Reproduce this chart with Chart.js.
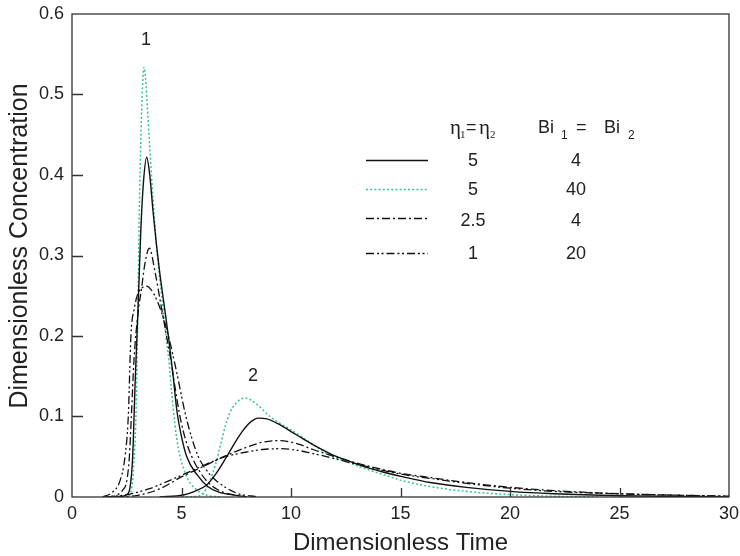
<!DOCTYPE html>
<html>
<head>
<meta charset="utf-8">
<script src="https://cdn.jsdelivr.net/npm/chart.js@4.4.0/dist/chart.umd.min.js"></script>
<style>
  html, body { margin: 0; padding: 0; background: #fff; }
</style>
</head>
<body>
<canvas id="chart" width="740" height="556"></canvas>
<script>
// axis ticks
const xTicks = [0, 5, 10, 15, 20, 25, 30];
const yTicks = [0, 0.1, 0.2, 0.3, 0.4, 0.5, 0.6];

// legend table
const etaValues = ['5', '5', '2.5', '1'];
const biValues = ['4', '40', '4', '20'];

// peak 1 (first column)
const t1Solid = [1.8, 2.3, 2.5, 2.65, 2.77, 2.88, 3.03, 3.14, 3.26, 3.41, 3.55, 3.7, 3.85, 4.0, 4.2, 4.4, 4.6, 4.8, 5.0, 5.24, 5.7, 6.2, 6.7, 7.5, 8.0];
const c1Solid = [0, 0.001, 0.003, 0.012, 0.05, 0.14, 0.245, 0.33, 0.39, 0.422, 0.4, 0.355, 0.315, 0.28, 0.24, 0.2, 0.155, 0.105, 0.075, 0.05, 0.028, 0.013, 0.006, 0.002, 0];

const t1Green = [2.2, 2.5, 2.68, 2.78, 2.86, 2.92, 3.0, 3.07, 3.15, 3.22, 3.29, 3.36, 3.45, 3.56, 3.7, 3.9, 4.17, 4.29, 4.42, 4.55, 4.7, 4.86, 5.1, 5.31, 5.69, 6.2, 6.8];
const c1Green = [0, 0.001, 0.005, 0.025, 0.06, 0.1, 0.22, 0.35, 0.45, 0.51, 0.534, 0.52, 0.48, 0.43, 0.37, 0.3, 0.232, 0.2, 0.17, 0.13, 0.09, 0.06, 0.035, 0.021, 0.009, 0.002, 0];

const t1DashDot = [1.6, 2.0, 2.3, 2.5, 2.62, 2.71, 2.83, 3.0, 3.18, 3.33, 3.53, 3.79, 4.02, 4.25, 4.5, 4.7, 4.93, 5.2, 5.47, 5.8, 6.15, 6.6, 7.0, 7.8];
const c1DashDot = [0, 0.002, 0.008, 0.02, 0.05, 0.1, 0.17, 0.225, 0.26, 0.29, 0.309, 0.28, 0.245, 0.21, 0.172, 0.137, 0.1, 0.07, 0.05, 0.033, 0.02, 0.01, 0.005, 0.001];

const t1DashDotDot = [1.4, 1.8, 2.19, 2.42, 2.57, 2.69, 2.85, 3.0, 3.2, 3.41, 3.6, 3.9, 4.2, 4.45, 4.7, 4.93, 5.16, 5.45, 5.77, 6.15, 6.6, 7.5, 8.5];
const c1DashDotDot = [0, 0.005, 0.02, 0.05, 0.1, 0.2, 0.235, 0.252, 0.26, 0.262, 0.258, 0.243, 0.22, 0.195, 0.165, 0.135, 0.105, 0.075, 0.05, 0.033, 0.02, 0.005, 0];

// peak 2 (second column)
const t2Solid = [4.0, 5.08, 5.6, 6.15, 6.6, 7.06, 7.45, 7.82, 8.15, 8.5, 8.9, 9.4, 10.26, 11.0, 11.78, 12.5, 13.3, 14.2, 15.13, 16.35, 18, 20, 22, 25, 28, 30];
const c2Solid = [0, 0.0025, 0.007, 0.015, 0.03, 0.05, 0.068, 0.083, 0.093, 0.098, 0.097, 0.091, 0.077, 0.065, 0.054, 0.046, 0.038, 0.031, 0.025, 0.018, 0.012, 0.007, 0.004, 0.0015, 0.0005, 0.0002];

const t2Green = [5.2, 5.92, 6.3, 6.55, 6.76, 7.0, 7.2, 7.5, 7.9, 8.4, 9.04, 9.6, 10.26, 11.0, 11.78, 12.5, 13.3, 14.2, 15.13, 16.35, 18, 20, 22, 24];
const c2Green = [0, 0.0025, 0.021, 0.04, 0.0625, 0.088, 0.104, 0.117, 0.123, 0.116, 0.1, 0.09, 0.079, 0.065, 0.052, 0.044, 0.036, 0.028, 0.02, 0.013, 0.007, 0.003, 0.001, 0];

const t2DashDot = [2.0, 3.0, 4.0, 5.0, 6.0, 7.0, 8.0, 8.7, 9.5, 10.3, 11.0, 11.8, 12.5, 13.3, 14.2, 15.1, 16.4, 18, 20, 22, 25, 28, 30];
const c2DashDot = [0, 0.002, 0.01, 0.025, 0.038, 0.051, 0.062, 0.068, 0.07, 0.066, 0.059, 0.052, 0.046, 0.04, 0.034, 0.029, 0.024, 0.018, 0.012, 0.008, 0.004, 0.002, 0.001];

const t2DashDotDot = [1.5, 2.5, 3.5, 4.5, 5.5, 6.5, 7.0, 8.0, 8.7, 9.5, 10.3, 11.0, 11.8, 12.5, 13.3, 14.2, 15.1, 16.4, 18, 20, 22, 25, 28, 30];
const c2DashDotDot = [0, 0.003, 0.01, 0.021, 0.033, 0.045, 0.05, 0.056, 0.059, 0.06, 0.058, 0.054, 0.049, 0.044, 0.039, 0.033, 0.028, 0.023, 0.017, 0.011, 0.007, 0.004, 0.002, 0.001];

// line styles
const GREEN = '#35c496';
const INK = '#111';
const styleSolid = { borderColor: INK, borderWidth: 1.4, borderDash: [] };
const styleGreen = { borderColor: GREEN, borderWidth: 1.5, borderDash: [2, 2.2] };
const styleDashDot = { borderColor: INK, borderWidth: 1.3, borderDash: [8, 3, 2, 3] };
const styleDashDotDot = { borderColor: INK, borderWidth: 1.3, borderDash: [8, 3, 2, 2.5, 2, 3] };
const legendStyles = [styleSolid, styleGreen, styleDashDot, styleDashDotDot];

const FONT = "'Liberation Sans', Arial, sans-serif";

function points(ts, cs) {
  return ts.map((t, i) => ({ x: t, y: cs[i] }));
}

function curve(ts, cs, style) {
  return Object.assign({
    data: points(ts, cs),
    pointRadius: 0,
    fill: false,
    cubicInterpolationMode: 'monotone'
  }, style);
}

const datasets = [
  curve(t1DashDotDot, c1DashDotDot, styleDashDotDot),
  curve(t2DashDotDot, c2DashDotDot, styleDashDotDot),
  curve(t1DashDot, c1DashDot, styleDashDot),
  curve(t2DashDot, c2DashDot, styleDashDot),
  curve(t1Solid, c1Solid, styleSolid),
  curve(t2Solid, c2Solid, styleSolid),
  curve(t1Green, c1Green, styleGreen),
  curve(t2Green, c2Green, styleGreen)
];

// frame, inward ticks, y title, peak labels, legend table
const decorations = {
  id: 'decorations',
  afterDatasetsDraw(chart) {
    const { ctx, chartArea: a, scales } = chart;
    ctx.save();
    ctx.strokeStyle = '#333';
    ctx.lineWidth = 1.3;
    ctx.setLineDash([]);
    ctx.strokeRect(a.left, a.top, a.right - a.left, a.bottom - a.top);

    ctx.beginPath();
    xTicks.slice(1, -1).forEach(v => {
      const x = Math.round(scales.x.getPixelForValue(v)) + 0.5;
      ctx.moveTo(x, a.bottom);
      ctx.lineTo(x, a.bottom - 9);
    });
    yTicks.slice(1, -1).forEach(v => {
      const y = Math.round(scales.y.getPixelForValue(v)) + 0.5;
      ctx.moveTo(a.left, y);
      ctx.lineTo(a.left + 11, y);
    });
    ctx.stroke();

    ctx.fillStyle = '#222';
    // y axis title (sits a little above the axis middle in the original)
    ctx.save();
    ctx.translate(20, 246);
    ctx.rotate(-Math.PI / 2);
    ctx.font = '25px ' + FONT;
    ctx.textAlign = 'center';
    ctx.textBaseline = 'middle';
    ctx.fillText('Dimensionless Concentration', 0, 0);
    ctx.restore();

    ctx.font = '18px ' + FONT;
    ctx.textAlign = 'center';
    ctx.textBaseline = 'middle';
    ctx.fillText('1', 146, 40);
    ctx.fillText('2', 253, 376);

    // header
    ctx.textAlign = 'left';
    ctx.textBaseline = 'alphabetic';
    ctx.font = "21px 'Liberation Serif', serif";
    ctx.fillText('\u03b7', 450, 134);
    ctx.fillText('\u03b7', 479, 134);
    ctx.font = "11px 'Liberation Serif', serif";
    ctx.fillText('1', 460, 138);
    ctx.fillText('2', 490, 138);
    ctx.font = '18px ' + FONT;
    ctx.fillText('=', 466, 133);
    ctx.fillText('Bi', 538, 133);
    ctx.fillText('=', 576, 133);
    ctx.fillText('Bi', 604, 133);
    ctx.font = '12px ' + FONT;
    ctx.fillText('1', 561, 139);
    ctx.fillText('2', 628, 139);

    const rowText = [161, 190, 221, 254];
    const rowLine = [160, 189, 218, 253];
    ctx.font = '18px ' + FONT;
    ctx.textAlign = 'center';
    ctx.textBaseline = 'middle';
    etaValues.forEach((v, i) => {
      ctx.fillText(v, 473, rowText[i]);
      ctx.fillText(biValues[i], 576, rowText[i]);
    });
    legendStyles.forEach((s, i) => {
      ctx.strokeStyle = s.borderColor;
      ctx.lineWidth = s.borderWidth;
      ctx.setLineDash(s.borderDash);
      ctx.beginPath();
      ctx.moveTo(366, rowLine[i] + 0.5);
      ctx.lineTo(428, rowLine[i] + 0.5);
      ctx.stroke();
    });
    ctx.restore();
  }
};

new Chart(document.getElementById('chart').getContext('2d'), {
  type: 'line',
  data: { datasets: datasets },
  options: {
    responsive: false,
    animation: false,
    devicePixelRatio: 1,
    layout: { padding: { top: 14, right: 11, left: 0, bottom: 0 } },
    plugins: { legend: { display: false }, tooltip: { enabled: false } },
    scales: {
      x: {
        type: 'linear',
        min: 0,
        max: 30,
        afterBuildTicks: s => { s.ticks = xTicks.map(v => ({ value: v })); },
        afterFit: s => { s.height = 59; s.paddingLeft = 0; s.paddingRight = 0; },
        grid: { display: false, drawTicks: false },
        border: { display: false },
        ticks: { padding: 6, color: '#222', font: { family: FONT, size: 18 } },
        title: { display: true, text: 'Dimensionless Time', color: '#222',
          font: { family: FONT, size: 24, lineHeight: 1 }, padding: { top: 0, bottom: 1 } }
      },
      y: {
        type: 'linear',
        min: 0,
        max: 0.6,
        afterBuildTicks: s => { s.ticks = yTicks.map(v => ({ value: v })); },
        afterFit: s => { s.width = 72; s.paddingTop = 0; s.paddingBottom = 0; },
        grid: { display: false, drawTicks: false },
        border: { display: false },
        ticks: { padding: 8, color: '#222', font: { family: FONT, size: 18 },
          callback: v => String(v) },
        title: { display: false }
      }
    }
  },
  plugins: [decorations]
});
</script>
</body>
</html>
